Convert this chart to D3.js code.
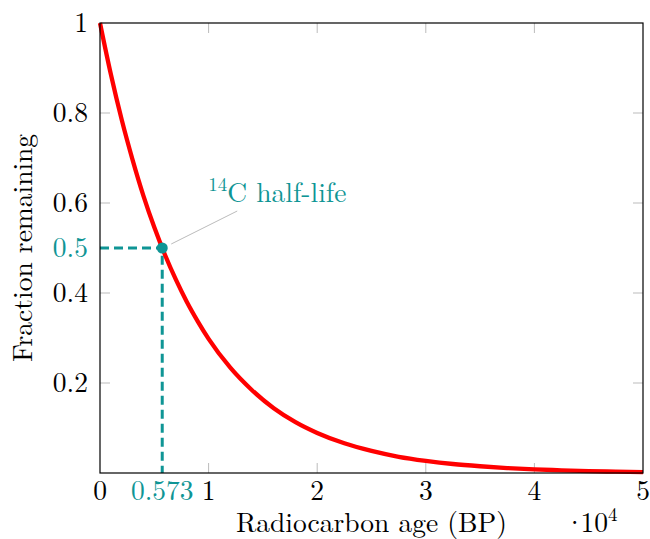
<!DOCTYPE html>
<html><head><meta charset="utf-8">
<script src="https://cdn.jsdelivr.net/npm/d3@7"></script>
<style>body{margin:0;background:#fff}svg{display:block}</style>
</head><body><svg id="c" width="650" height="539"></svg>
<script>
// Data (fraction of 14C remaining vs. age in years BP)
const ages = [0,1000,2000,3000,4000,5000,6000,7000,8000,9000,10000,12000,14000,16000,18000,20000,22500,25000,27500,30000,32500,35000,37500,40000,42500,45000,47500,50000];
const fractions = [1,0.886,0.785,0.696,0.616,0.546,0.484,0.429,0.380,0.337,0.298,0.234,0.184,0.144,0.113,0.089,0.066,0.049,0.036,0.027,0.020,0.015,0.011,0.008,0.006,0.004,0.003,0.002];
const xTicks = [0,10000,20000,30000,40000,50000];
const xTickLabels = ["0","1","2","3","4","5"];
const yTicks = [0.2,0.4,0.6,0.8,1];
const yTickLabels = ["0.2","0.4","0.6","0.8","1"];
const halfLife = [5730, 0.5];
const halfLifeLabels = ["0.573","0.5"];

const L=100,R=643,T=23,B=473;
const teal="#0f9595", fs=27.5, fsSup=19;
const svg=d3.select("#c").attr("font-family","'Latin Modern Roman','CMU Serif',serif");
const x=d3.scaleLinear().domain([0,50000]).range([L,R]);
const y=d3.scaleLinear().domain([0,1]).range([B,T]);
const g=svg.append("g");

// ticks inside, mirrored, gray
const tl=10;
xTicks.slice(1,-1).forEach(v=>{
  g.append("line").attr("x1",x(v)).attr("x2",x(v)).attr("y1",B).attr("y2",B-tl).attr("stroke","#bbb");
  g.append("line").attr("x1",x(v)).attr("x2",x(v)).attr("y1",T).attr("y2",T+tl).attr("stroke","#bbb");
});
yTicks.slice(0,-1).forEach(v=>{
  g.append("line").attr("y1",y(v)).attr("y2",y(v)).attr("x1",L).attr("x2",L+tl).attr("stroke","#bbb");
  g.append("line").attr("y1",y(v)).attr("y2",y(v)).attr("x1",R).attr("x2",R-tl).attr("stroke","#bbb");
});

// dashed half-life guides
g.append("path").attr("d",`M${x(0)},${y(halfLife[1])}H${x(halfLife[0])}V${y(0)}`)
 .attr("fill","none").attr("stroke",teal).attr("stroke-width",3).attr("stroke-dasharray","9,5");

// curve
const line=d3.line().x((d,i)=>x(ages[i])).y(d=>y(d)).curve(d3.curveMonotoneX);
g.append("path").datum(fractions).attr("d",line).attr("fill","none").attr("stroke","#ff0000").attr("stroke-width",4.3);

// frame
g.append("rect").attr("x",L).attr("y",T).attr("width",R-L).attr("height",B-T).attr("fill","none").attr("stroke","#000").attr("stroke-width",1.2);

// pin and marker
const px=x(halfLife[0]), py=y(halfLife[1]);
g.append("line").attr("x1",px+9).attr("y1",py-4).attr("x2",px+75).attr("y2",py-37).attr("stroke","#aaa").attr("stroke-width",0.8);
g.append("circle").attr("cx",px).attr("cy",py).attr("r",5.5).attr("fill",teal);
const ann=g.append("text").attr("x",px+46).attr("y",py-46).attr("fill",teal).attr("font-size",fs);
ann.append("tspan").text("14").attr("font-size",fsSup).attr("dy",-11);
ann.append("tspan").text("C half-life").attr("dy",11);

// tick labels
xTicks.forEach((v,i)=>{
  g.append("text").attr("x",x(v)).attr("y",B+27).attr("text-anchor","middle").attr("font-size",fs).text(xTickLabels[i]);
});
yTicks.forEach((v,i)=>{
  g.append("text").attr("x",L-12).attr("y",y(v)+9).attr("text-anchor","end").attr("font-size",fs).text(yTickLabels[i]);
});
g.append("text").attr("x",px).attr("y",B+27).attr("text-anchor","middle").attr("font-size",fs).attr("fill",teal).text(halfLifeLabels[0]);
g.append("text").attr("x",L-12).attr("y",py+9).attr("text-anchor","end").attr("font-size",fs).attr("fill",teal).text(halfLifeLabels[1]);

// axis labels
g.append("text").attr("x",(L+R)/2).attr("y",532).attr("text-anchor","middle").attr("font-size",fs).text("Radiocarbon age (BP)");
g.append("text").attr("transform",`translate(32,${(T+B)/2}) rotate(-90)`).attr("text-anchor","middle").attr("font-size",fs).text("Fraction remaining");
const ex=g.append("text").attr("x",564).attr("y",532).attr("font-size",fs);
ex.append("tspan").text("·").attr("letter-spacing",-5);
ex.append("tspan").text("10");
ex.append("tspan").text("4").attr("font-size",fsSup).attr("dy",-11);
</script></body></html>
